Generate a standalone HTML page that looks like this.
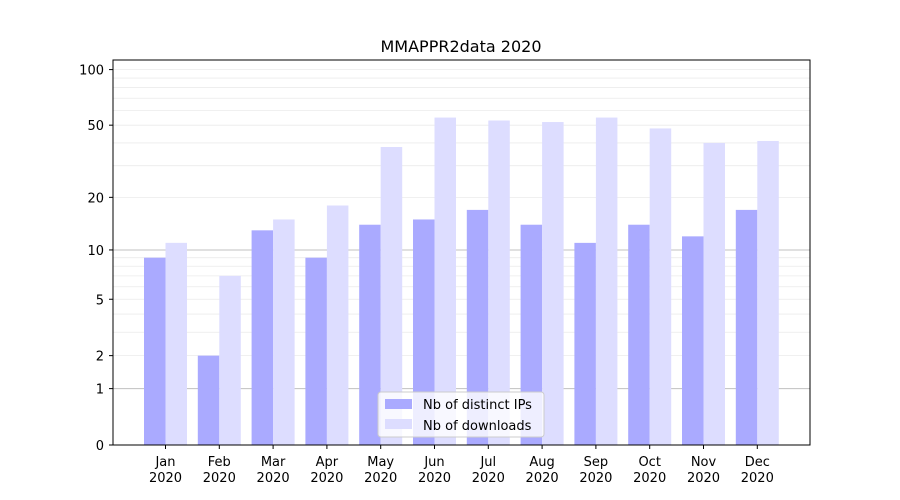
<!DOCTYPE html>
<html><head><meta charset="utf-8"><style>body{margin:0;background:#fff}svg{display:block}text{font-family:"DejaVu Sans","Liberation Sans",sans-serif;font-size:13px;fill:#000}</style></head><body>
<svg width="900" height="500" xmlns="http://www.w3.org/2000/svg" id="s">
<rect width="900" height="500" fill="#fff"/>
<g id="grid"></g>
<g id="bars"></g>
<rect x="113" y="60" width="697" height="385" fill="none" stroke="#000" stroke-width="1"/>
<g id="ticks"></g>
<text x="461" y="52" text-anchor="middle" style="font-size:16px">MMAPPR2data 2020</text>
<g>
<rect x="378" y="392" width="166" height="45" rx="3" fill="#fff" fill-opacity="0.8" stroke="#ccc"/>
<rect x="385" y="399" width="27" height="10" fill="#aaaaff"/>
<text x="423" y="409">Nb of distinct IPs</text>
<rect x="385" y="419" width="27" height="10" fill="#ddddff"/>
<text x="423" y="430">Nb of downloads</text>
</g>
</svg>
<script>
var ns="http://www.w3.org/2000/svg";
function Y(v){return 445-187.3*Math.log10(v+1);}
function el(p,t,a,txt){var e=document.createElementNS(ns,t);for(var k in a)e.setAttribute(k,a[k]);if(txt!==undefined)e.textContent=txt;document.getElementById(p).appendChild(e);return e;}
var minor=[2,3,4,5,6,7,8,9,20,30,40,50,60,70,80,90,100];
minor.forEach(function(v){var y=Y(v);el("grid","line",{x1:113,x2:810,y1:y,y2:y,stroke:"#ebebeb","stroke-width":0.8});});
[1,10].forEach(function(v){var y=Y(v);el("grid","line",{x1:113,x2:810,y1:y,y2:y,stroke:"#c0c0c0","stroke-width":1});});
var ips=[9,2,13,9,14,15,17,14,11,14,12,17];
var dl=[11,7,15,18,38,55,53,52,55,48,40,41];
var m=["Jan","Feb","Mar","Apr","May","Jun","Jul","Aug","Sep","Oct","Nov","Dec"];
for(var i=0;i<12;i++){var c=165.5+i*53.8;
el("bars","rect",{x:c-21.5,y:Y(ips[i]),width:21.5,height:445-Y(ips[i]),fill:"#aaaaff"});
el("bars","rect",{x:c,y:Y(dl[i]),width:21.5,height:445-Y(dl[i]),fill:"#ddddff"});
el("ticks","line",{x1:c,x2:c,y1:445,y2:449,stroke:"#000"});
el("ticks","text",{x:c,y:466,"text-anchor":"middle"},m[i]);
el("ticks","text",{x:c,y:482,"text-anchor":"middle"},"2020");}
[0,1,2,5,10,20,50,100].forEach(function(v){var y=Y(v);
el("ticks","line",{x1:109,x2:113,y1:y,y2:y,stroke:"#000"});
el("ticks","text",{x:104,y:y+5,"text-anchor":"end"},v);});
</script>
</body></html>
